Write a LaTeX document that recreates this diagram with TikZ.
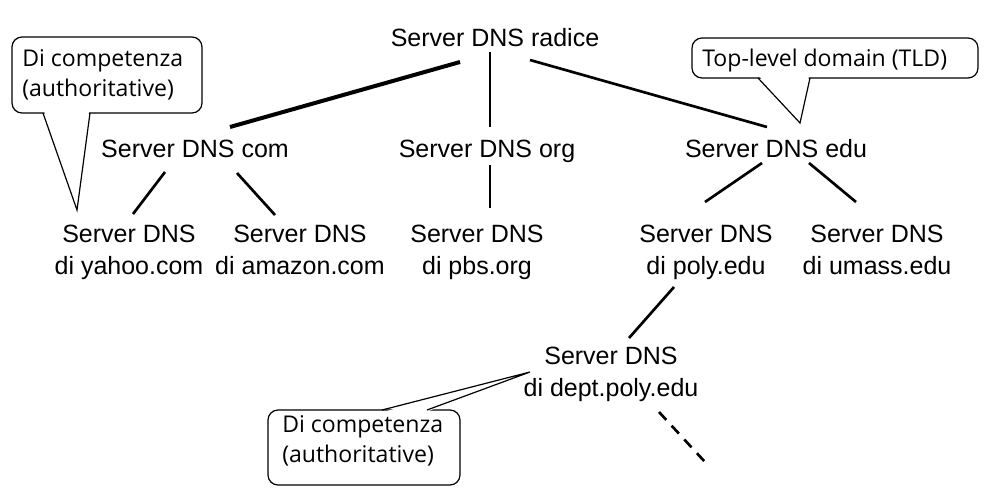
\documentclass[tikz,border=0pt]{standalone}
\usepackage{fontspec}
\setmainfont{Liberation Sans}
\newfontfamily\calloutfont{Open Sans}
\usetikzlibrary{calc}
\begin{document}
\begin{tikzpicture}[x=0.75pt,y=-0.75pt,
  server/.style={inner sep=0pt,font=\fontsize{18.75}{24}\selectfont,align=center},
  link/.style={line width=2pt},
  biglink/.style={line width=3pt},
  dashlink/.style={line width=2pt,dash pattern=on 8pt off 6pt},
  balloon/.style={line width=0.9pt,rounded corners=7.5pt,fill=white},
  balloontext/.style={inner sep=0pt,font=\calloutfont\fontsize{17.3}{23}\selectfont,align=left}]
\useasboundingbox (0,0) rectangle (991,500);
% servers
\node[server,anchor=base] (radice) at (495,46) {Server DNS radice};
\node[server,anchor=base] (com) at (195,157) {Server DNS com};
\node[server,anchor=base] (org) at (487,157) {Server DNS org};
\node[server,anchor=base] (edu) at (776,157) {Server DNS edu};
\node[server,anchor=north] (yahoo) at (129,225) {Server DNS\\di yahoo.com};
\node[server,anchor=north] (amazon) at (300,225) {Server DNS\\di amazon.com};
\node[server,anchor=north] (pbs) at (477,225) {Server DNS\\di pbs.org};
\node[server,anchor=north] (poly) at (706,225) {Server DNS\\di poly.edu};
\node[server,anchor=north] (umass) at (877,225) {Server DNS\\di umass.edu};
\node[server,anchor=north] (dept) at (611,347) {Server DNS\\di dept.poly.edu};
% connectors
\draw[biglink] ($(radice.base)+(-35,16)$) -- ($(com.base)+(35,-30)$);
\draw[link] ($(radice.base)+(-5,6)$) -- ($(org.base)+(3,-30)$);
\draw[link] ($(radice.base)+(35,14)$) -- ($(edu.base)+(-9,-30)$);
\draw[link] ($(com.base)+(-30,15)$) -- ($(yahoo.north)+(4,-11)$);
\draw[link] ($(com.base)+(42,16)$) -- ($(amazon.north)+(-25,-10)$);
\draw[link] ($(org.base)+(3,8)$) -- ($(pbs.north)+(13,-17)$);
\draw[link] ($(edu.base)+(-14,6)$) -- ($(poly.north)+(-1,-23)$);
\draw[link] ($(edu.base)+(33,6)$) -- ($(umass.north)+(-21,-23)$);
\draw[link] ($(poly.north)+(-32,62)$) -- ($(dept.north)+(18,-9)$);
\coordinate (more) at ($(dept.north)+(94,115)$);
\draw[dashlink] ($(dept.north)+(48,65)$) -- (more);
% callout 1
\coordinate (tip1) at ($(yahoo.north)+(-52,-15)$);
\draw[balloon] (12,37) rectangle (202,113);
\fill[white] (44,111) -- (89,111) -- (tip1) -- cycle;
\draw[line width=0.9pt] (43,113) -- (tip1) -- (90,113);
\node[balloontext,anchor=north west] (c1text) at (22,49) {Di competenza\\(authoritative)};
% callout TLD
\coordinate (tip2) at ($(edu.base)+(24,-34)$);
\draw[balloon] (692,38) rectangle (978,78);
\fill[white] (759,76) -- (809,76) -- (tip2) -- cycle;
\draw[line width=0.9pt] (758,78) -- (tip2) -- (810,78);
\node[balloontext,anchor=base west] (c2text) at (702,66) {Top-level domain (TLD)};
% callout 3
\coordinate (tip3) at ($(dept.north)+(-81,25)$);
\draw[balloon] (268,410) rectangle (460,485);
\fill[white] (383,412) -- (426,412) -- (tip3) -- cycle;
\draw[line width=0.9pt] (382,410) -- (tip3) -- (427,410);
\node[balloontext,anchor=north west] (c3text) at (282,415) {Di competenza\\(authoritative)};
\end{tikzpicture}
\end{document}
